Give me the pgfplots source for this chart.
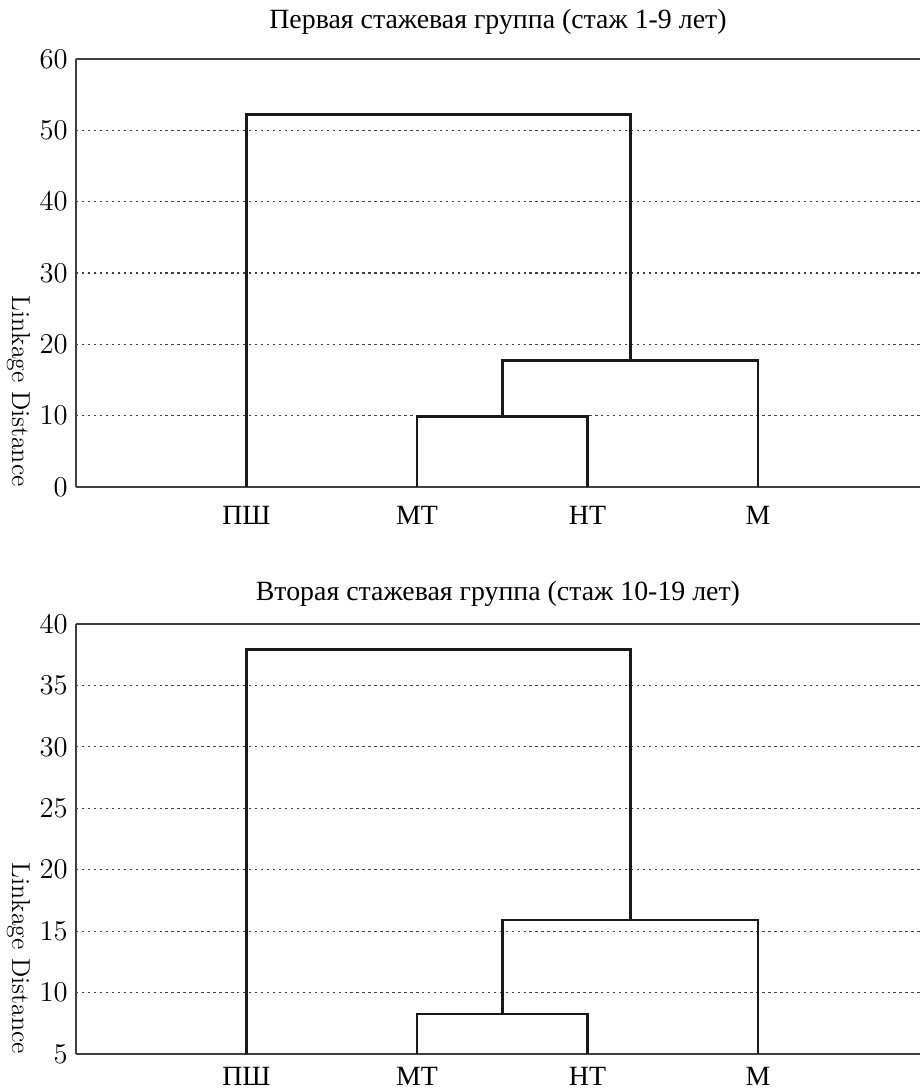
\documentclass[border=0pt]{standalone}
\usepackage{fontspec}
\newfontfamily\cyr{Liberation Serif}
\usepackage{pgfplots}
\pgfplotsset{compat=1.18}
\begin{document}
\begin{tikzpicture}
\pgfplotsset{
 dline/.style={black!90, line width=1.4pt, line join=miter, mark=none},
 dendro/.style={
  scale only axis, width=424.3pt, xmin=0, xmax=4.95,
  axis x line=box, axis y line=left,
  axis line style={-, black!75, line width=0.75pt},
  major tick length=0pt,
  xtick={1,2,3,4}, xticklabels={ПШ,МТ,НТ,М},
  xticklabel style={font=\cyr\fontsize{14}{16}\selectfont, inner sep=0pt, anchor=north, yshift=-9.5pt},
  yticklabel style={font=\fontsize{14}{16}\selectfont, inner sep=0pt, anchor=east, xshift=-4pt},
  ymajorgrids, grid style={black!75, line width=0.65pt, dash pattern=on 1.2pt off 1.8pt},
  ylabel={Linkage Distance},
  ylabel style={font=\fontsize{13}{15}\selectfont, at={(axis description cs:-0.0683,0)}, anchor=east, rotate=180, inner sep=0pt},
  title style={font=\cyr\fontsize{14}{16}\selectfont, at={(axis description cs:0.5,1)}, anchor=base, inner sep=0pt},
  no markers,
  clip=false,
 }
}
\begin{axis}[dendro, height=215.2pt, ymin=0, ymax=60, ytick={0,10,...,60},
  title={Первая стажевая группа (стаж 1-9 лет)}, title style={yshift=9.5pt}]
\addplot[dline] coordinates {(2,0) (2,9.9) (3,9.9) (3,0)};
\addplot[dline] coordinates {(2.5,9.9) (2.5,17.7) (4,17.7) (4,0)};
\addplot[dline] coordinates {(1,0) (1,52.2) (3.25,52.2) (3.25,17.7)};
\end{axis}
\begin{axis}[dendro, at={(0,-285.1pt)}, height=216.2pt, ymin=5, ymax=40, ytick={5,10,...,40},
  xticklabel style={yshift=2.8pt},
  title={Вторая стажевая группа (стаж 10-19 лет)}, title style={yshift=6pt}]
\addplot[dline] coordinates {(2,5) (2,8.25) (3,8.25) (3,5)};
\addplot[dline] coordinates {(2.5,8.25) (2.5,15.9) (4,15.9) (4,5)};
\addplot[dline] coordinates {(1,5) (1,37.9) (3.25,37.9) (3.25,15.9)};
\end{axis}
\pgfresetboundingbox
\path[use as bounding box] (-38.2pt,-304.2pt) rectangle (424.3pt,244.8pt);
\end{tikzpicture}
\end{document}
